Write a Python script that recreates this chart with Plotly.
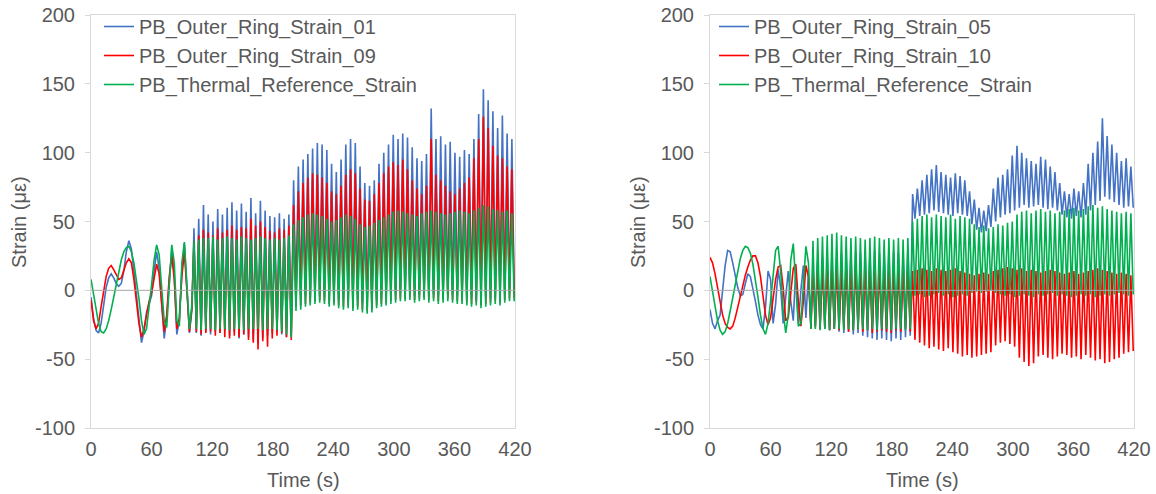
import numpy as np
import plotly.graph_objects as go

# ---------------- time base ----------------
# early (slow) part sampled every 2.5 s from 0 to 100 s,
# then one peak / trough pair per load cycle (~4.7 s period)
t_early = np.arange(0, 100.01, 2.5)          # 41 samples
n_cycles = 68
t_peak = 102 + 4.7 * np.arange(n_cycles)
t_trough = t_peak + 2.35

# ---------------- LEFT chart data ----------------
L_blue_early = [-5, -20, -29, -31, -24, -10, 2, 9, 12, 9,
                5, 3, 5, 14, 28, 36, 30, 14, -4, -22,
                -38, -30, -16, -10, -4, 14, 28, 16, -8, -35,
                -20, 8, 30, 10, -32, -22, 14, 34, 0, -31, -14]
L_blue_peaks = [45, 52, 62, 55, 50, 59, 55, 60, 64, 58, 63, 57, 67, 56, 65, 58, 54, 53, 56, 52, 55,
                80, 90, 95, 99, 103, 107, 106, 102, 92, 86,
                95, 106, 110, 107, 90, 78, 76, 80, 92, 100,
                106, 113, 110, 114, 111, 104, 96, 94, 99, 132,
                110, 112, 106, 108, 100, 97, 102, 99, 110, 128,
                146, 138, 130, 118, 127, 114, 110]
L_blue_troughs = [-31, -33, -30, -32, -30, -31, -29, -33, -30, -35, -32, -34, -36, -38, -35, -33, -31, -30, -32, -34, -33,
                  -6, -5, -4, -5, -3, -4, -5, -6, -5, -7,
                  -6, -7, -8, -7, -9, -8, -9, -7, -6, -5,
                  -4, -3, -2, -3, -2, -4, -3, -2, -4, -3,
                  -4, -5, -4, -3, -4, -5, -6, -5, -7, -6,
                  -5, -6, -5, -4, -3, -2, -3]

L_red_early = [-7, -22, -28, -24, -12, 0, 10, 16, 18, 15,
               11, 8, 9, 14, 20, 23, 20, 8, -8, -24,
               -34, -28, -18, -8, -2, 10, 19, 12, -10, -30,
               -18, 10, 25, 8, -28, -20, 10, 28, 0, -30, -12]
L_red_peaks = [36, 40, 44, 42, 40, 45, 42, 44, 47, 44, 46, 45, 52, 47, 50, 46, 43, 42, 45, 44, 47,
               62, 72, 78, 82, 85, 84, 82, 78, 72, 70,
               76, 84, 88, 85, 74, 66, 65, 70, 78, 85,
               90, 93, 91, 95, 88, 80, 74, 70, 76, 110,
               84, 80, 76, 72, 70, 74, 78, 82, 96, 110,
               126, 118, 105, 98, 96, 90, 88]
L_red_troughs = [-30, -32, -31, -30, -33, -31, -34, -35, -33, -34, -32, -36, -38, -43, -37, -41, -35, -33, -31, -34, -36,
                 -12, -11, -10, -9, -8, -7, -8, -10, -9, -11,
                 -12, -11, -13, -12, -14, -15, -14, -11, -10, -9,
                 -8, -7, -6, -6, -5, -7, -6, -5, -7, -6,
                 -8, -7, -6, -7, -8, -8, -9, -10, -9, -11,
                 -10, -9, -8, -9, -7, -6, -6]

L_green_early = [8, -2, -14, -24, -30, -31, -28, -22, -14, -5,
                 5, 14, 22, 28, 31, 32, 28, 20, 8, -6,
                 -22, -32, -28, -14, 4, 22, 33, 26, 4, -22,
                 -27, 5, 33, 20, -22, -26, 20, 35, 5, -28, -10]
L_green_peaks = [36, 37, 38, 38, 39, 37, 38, 39, 38, 37, 39, 38, 37, 38, 39, 38, 37, 38, 37, 38, 40,
                 48, 51, 53, 55, 56, 55, 54, 52,
                 50, 51, 53, 55, 54, 52,
                 48, 46, 47, 49, 51, 53,
                 55, 57, 58, 57, 56, 55, 54, 56, 57, 58,
                 57, 56, 55, 56, 57, 58, 57, 56, 58,
                 60, 62, 61, 59, 58, 57, 58, 56]
L_green_troughs = [-28, -29, -28, -28, -29, -28, -28, -29, -28, -28, -29, -28, -28, -28, -29, -28, -28, -29, -30, -32, -34,
                   -15, -14, -12, -11, -10, -9,
                   -10, -12, -11, -13, -14, -13, -15, -14, -16, -17, -16,
                   -13, -12, -11, -10, -9, -8,
                   -8, -7, -9, -8, -7, -9, -8, -10, -9, -8, -9, -10,
                   -10, -11, -12, -11, -13, -12, -11, -10, -11,
                   -9, -8, -8]

# ---------------- RIGHT chart data ----------------
R_blue_early = [-14, -24, -28, -22, -18, -2, 18, 29, 28, 20,
                10, 2, -4, -3, 5, 12, 10, 2, -8, -18,
                -25, -28, -12, 14, 8, -24, -10, 15, 2, -24,
                -5, 14, -8, -22, 16, -24, 0, 18, -20, 12, -26]
R_blue_peaks = [20, 22, 24, 25, 24, 26, 27, 25, 26, 28, 27, 26, 28, 29, 27, 28, 29, 28, 27, 28, 30,
                70, 74, 80, 84, 88, 91, 86, 84, 82, 85,
                83, 80, 72, 66, 60, 58, 62, 74, 82, 84,
                88, 98, 105, 100, 96, 94, 92, 97, 95, 90,
                86, 78, 72, 70, 74, 72, 78, 92, 100, 108,
                125, 112, 106, 100, 94, 96, 90]
R_blue_troughs = [-26, -27, -28, -29, -28, -30, -31, -30, -32, -31, -33, -34, -35, -36, -35, -36, -37, -35, -36, -34, -33,
                  52, 54, 55, 56, 58, 57, 56, 55, 54, 56, 55, 54,
                  48, 44, 42, 43, 46,
                  50, 53, 55, 56, 58,
                  60, 62, 60, 61, 62, 60, 59, 60, 58,
                  55, 53, 52, 54, 53, 55,
                  58, 62, 65, 68, 66, 64, 62, 60, 61, 60]

R_red_early = [24, 20, 12, 2, -9, -18, -24, -27, -28, -26,
               -20, -12, -4, 4, 11, 17, 22, 25, 25, 20,
               10, -4, -18, -25, -20, -6, 8, 17, 18, 2,
               -22, -20, -2, 16, 19, -8, -26, -8, 18, 10, -28]
R_red_peaks = [14, 15, 16, 15, 17, 16, 15, 17, 16, 18, 15, 16, 17, 15, 16, 14, 15, 16, 15, 14, 16,
               14, 15, 16, 15, 14, 16, 15, 14, 15, 16,
               14, 13, 12, 11, 12, 13, 12, 14, 15, 16,
               17, 16, 15, 16, 14, 15, 14, 13, 14, 15,
               14, 13, 12, 13, 14, 12, 13, 14, 15, 16,
               15, 14, 13, 12, 13, 12, 11]
R_red_troughs = [-27, -28, -27, -29, -28, -29, -28, -30, -29, -28, -30, -29, -31, -30, -29, -30, -31, -29, -30, -28, -30,
                 -36, -38, -40, -42, -41, -43, -44, -42,
                 -45, -46, -48, -47, -49, -48, -47, -46, -45,
                 -40, -38, -37, -39, -41,
                 -49, -52, -55, -53,
                 -48, -47, -49, -50, -48, -46, -47, -49, -48, -50, -47,
                 -49, -51, -50, -53, -52, -50, -49,
                 -46, -45, -44]

R_green_early = [10, 0, -11, -22, -29, -32, -30, -24, -15, -5,
                 5, 15, 23, 29, 32, 31, 27, 19, 8, -5,
                 -18, -28, -32, -24, -8, 12, 29, 32, 14, -15,
                 -31, -18, 22, 34, 5, -26, -24, 5, 32, 20, -28]
R_green_peaks = [36, 38, 39, 40, 41, 42, 40, 39, 38, 39, 38, 37, 38, 39, 38, 37, 38, 37, 38, 37, 38,
                 50, 52, 54, 55, 53, 55, 54, 53, 55, 52, 54, 53, 52,
                 48, 46, 47, 45, 46, 48, 47, 49, 50,
                 55, 57, 58, 56, 58, 59, 57, 58, 56, 57,
                 58, 59, 60, 58, 59, 61, 62, 60, 61, 59,
                 58, 57, 56, 57, 56]
R_green_troughs = [-28, -29, -28, -29, -28, -28, -29, -28, -29, -28, -28, -29, -28, -29, -28, -28, -29, -28, -28, -29, -28,
                   -4, -3, -5, -4, -3, -2, -4, -3, -5, -4,
                   -3, -4, -2, -1, -2, -1, 0, -2, -3, -4,
                   -3, -5, -4, -3, -4, -5, -3, -4, -3, -2,
                   -4, -3, -4, -5, -4, -3, -4, -3, -5, -4,
                   -3, -4, -3, -2, -3, -4, -3]

names_left = ["PB_Outer_Ring_Strain_01", "PB_Outer_Ring_Strain_09", "PB_Thermal_Reference_Strain"]
names_right = ["PB_Outer_Ring_Strain_05", "PB_Outer_Ring_Strain_10", "PB_Thermal_Reference_Strain"]
x_ticks = [0, 60, 120, 180, 240, 300, 360, 420]
y_ticks = [-100, -50, 0, 50, 100, 150, 200]
y_tick_text = ["-100", "-50", "0", "50", "100", "150", "200"]

# ---------------- build ----------------
time = list(t_early) + [v for pair in zip(t_peak, t_trough) for v in pair]


def series(early, peaks, troughs):
    vals = list(early)
    for p, q in zip(peaks, troughs):
        vals += [p, q]
    return vals


COLORS = ["#4472C4", "#FF0000", "#00B050"]
FONT = "Liberation Sans, Arial, sans-serif"
TXT = "#595959"
AX = "#D9D9D9"
W, H = 1156, 494
LW = 1.6

fig = go.Figure()
left = [(L_blue_early, L_blue_peaks, L_blue_troughs),
        (L_red_early, L_red_peaks, L_red_troughs),
        (L_green_early, L_green_peaks, L_green_troughs)]
right = [(R_blue_early, R_blue_peaks, R_blue_troughs),
         (R_red_early, R_red_peaks, R_red_troughs),
         (R_green_early, R_green_peaks, R_green_troughs)]

for i, (e, p, q) in enumerate(left):
    fig.add_trace(go.Scatter(x=time, y=series(e, p, q), mode="lines", name=names_left[i],
                             line=dict(color=COLORS[i], width=LW), xaxis="x", yaxis="y",
                             legend="legend", legendgroup="L%d" % i))
for i, (e, p, q) in enumerate(right):
    fig.add_trace(go.Scatter(x=time, y=series(e, p, q), mode="lines", name=names_right[i],
                             line=dict(color=COLORS[i], width=LW), xaxis="x2", yaxis="y2",
                             legend="legend2", legendgroup="R%d" % i))

# plot areas in screen pixels
LX = (91, 515)
RX = (710, 1134)
YT, YB = 15, 428


def px(x):
    return x / W


def py(y):
    return 1 - y / H


common_x = dict(range=[0, 420], tickvals=x_ticks, showgrid=False, zeroline=False,
                showline=True, linecolor=AX, linewidth=1, mirror=True, ticks="",
                automargin=False, ticklabeloverflow="allow",
                tickfont=dict(family=FONT, size=20, color=TXT), ticklabelstandoff=3)
common_y = dict(range=[-100, 200], tickvals=y_ticks, ticktext=y_tick_text, showgrid=False,
                zeroline=False, showline=True, linecolor=AX, linewidth=1, mirror=True,
                ticks="outside", automargin=False, ticklabeloverflow="allow",
                ticklen=5, tickcolor=AX, tickfont=dict(family=FONT, size=20, color=TXT),
                ticklabelstandoff=6)

legend_common = dict(font=dict(family=FONT, size=20, color=TXT), bgcolor="rgba(0,0,0,0)",
                     xanchor="left", yanchor="top", tracegroupgap=0, traceorder="grouped",
                     itemwidth=30)

fig.update_layout(
    width=W, height=H, margin=dict(l=0, r=0, t=0, b=0, autoexpand=False),
    paper_bgcolor="white", plot_bgcolor="white",
    xaxis=dict(domain=[px(LX[0]), px(LX[1])], anchor="y", **common_x),
    yaxis=dict(domain=[py(YB), py(YT)], anchor="x", **common_y),
    xaxis2=dict(domain=[px(RX[0]), px(RX[1])], anchor="y2", **common_x),
    yaxis2=dict(domain=[py(YB), py(YT)], anchor="x2", **common_y),
    legend=dict(x=px(99), y=py(7), **legend_common),
    legend2=dict(x=px(714), y=py(7), **legend_common),
    showlegend=True,
)

for xr, yr in (("x domain", "y"), ("x2 domain", "y2")):
    fig.add_shape(type="line", xref=xr, x0=0, x1=1, yref=yr, y0=0, y1=0,
                  line=dict(color="#A6A6A6", width=1), layer="above")

title_font = dict(family=FONT, size=20, color=TXT)
annots = [
    dict(text="Strain (με)", x=px(19), y=py(222), textangle=-90),
    dict(text="Strain (με)", x=px(638), y=py(222), textangle=-90),
    dict(text="Time (s)", x=px(303), y=py(480)),
    dict(text="Time (s)", x=px(922), y=py(480)),
]
for a in annots:
    fig.add_annotation(xref="paper", yref="paper", showarrow=False, xanchor="center",
                       yanchor="middle", font=title_font, **a)

# remove the default 8 px page margin so the 1156x494 figure fills the window exactly
fig.write_html("out.html", config={"displayModeBar": False},
               post_script="document.body.style.margin='0px';document.body.style.overflow='hidden';")
